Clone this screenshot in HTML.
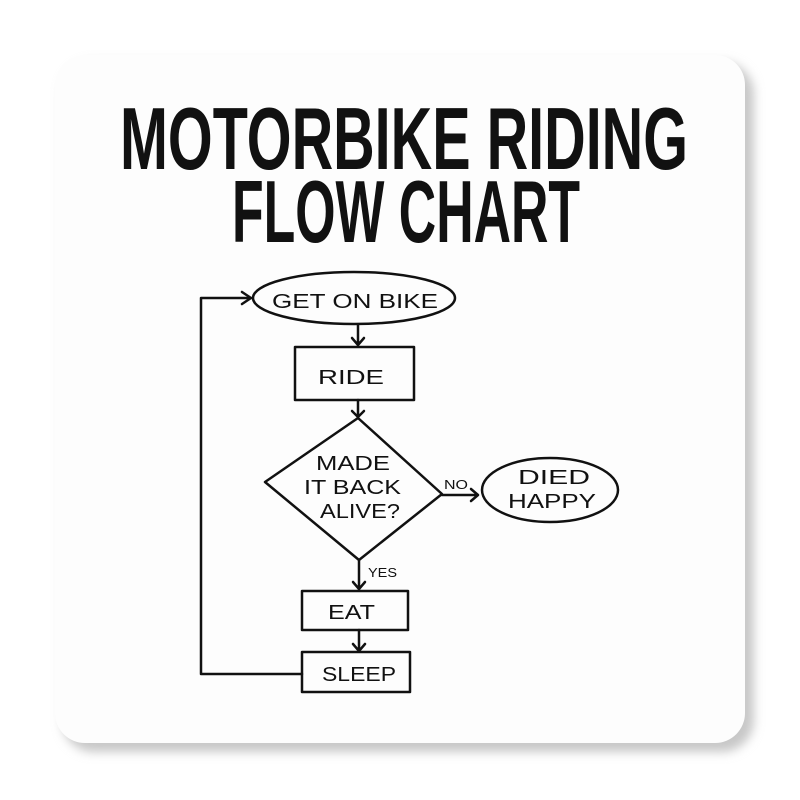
<!DOCTYPE html>
<html><head><meta charset="utf-8"><style>
html,body{margin:0;padding:0;background:#fff;}
svg{display:block}
</style></head><body>
<svg width="800" height="800" viewBox="0 0 800 800" xmlns="http://www.w3.org/2000/svg">
<defs>
<filter id="sh" x="-10%" y="-10%" width="130%" height="130%"><feGaussianBlur stdDeviation="5"/></filter>
</defs>
<rect x="0" y="0" width="800" height="800" fill="#fff"/>
<rect x="62" y="62" width="692" height="690" rx="32" fill="#c8c8c8" filter="url(#sh)"/>
<rect x="55" y="55" width="690" height="688" rx="30" fill="#fdfdfd"/>
<g font-family="Liberation Sans, sans-serif" font-weight="bold" fill="#111">
<text x="120" y="169" font-size="88" textLength="568" lengthAdjust="spacingAndGlyphs">MOTORBIKE RIDING</text>
<text x="232" y="242" font-size="88" textLength="348" lengthAdjust="spacingAndGlyphs">FLOW CHART</text>
</g>
<g fill="none" stroke="#111" stroke-width="2.5" stroke-linejoin="round" stroke-linecap="round">
<ellipse cx="354" cy="298" rx="101" ry="26"/>
<rect x="295" y="347" width="119" height="53"/>
<polygon points="358,418 442,494 359,560 265,482"/>
<ellipse cx="550" cy="490" rx="68" ry="32"/>
<rect x="302" y="591" width="106" height="39"/>
<rect x="302" y="652" width="108" height="40"/>
<path d="M302,674 H201 V298 H251"/>
<path d="M242,292 L251,298 L242,304"/>
<path d="M358,325 V345 M352,338 L358,345 L364,338"/>
<path d="M358,400 V417 M352,411 L358,417 L364,411"/>
<path d="M359,560 V589 M353,582 L359,589 L365,582"/>
<path d="M359,630 V651 M353,644 L359,651 L365,644"/>
<path d="M442,495 H478 M471,489 L478,495 L471,501"/>
</g>
<g font-family="Liberation Sans, sans-serif" fill="#111" font-size="20">
<text x="272" y="308" textLength="166" lengthAdjust="spacingAndGlyphs">GET ON BIKE</text>
<text x="318" y="384" textLength="66" lengthAdjust="spacingAndGlyphs">RIDE</text>
<text x="316" y="470" textLength="74" lengthAdjust="spacingAndGlyphs">MADE</text>
<text x="304" y="494" textLength="97" lengthAdjust="spacingAndGlyphs">IT BACK</text>
<text x="320" y="518" textLength="80" lengthAdjust="spacingAndGlyphs">ALIVE?</text>
<text x="518" y="484" textLength="72" lengthAdjust="spacingAndGlyphs">DIED</text>
<text x="508" y="508" textLength="88" lengthAdjust="spacingAndGlyphs">HAPPY</text>
<text x="328" y="619" textLength="47" lengthAdjust="spacingAndGlyphs">EAT</text>
<text x="322" y="681" textLength="74" lengthAdjust="spacingAndGlyphs">SLEEP</text>
<text x="444" y="489" font-size="13" textLength="24" lengthAdjust="spacingAndGlyphs">NO</text>
<text x="368" y="577" font-size="13" textLength="29" lengthAdjust="spacingAndGlyphs">YES</text>
</g>
</svg>
</body></html>
